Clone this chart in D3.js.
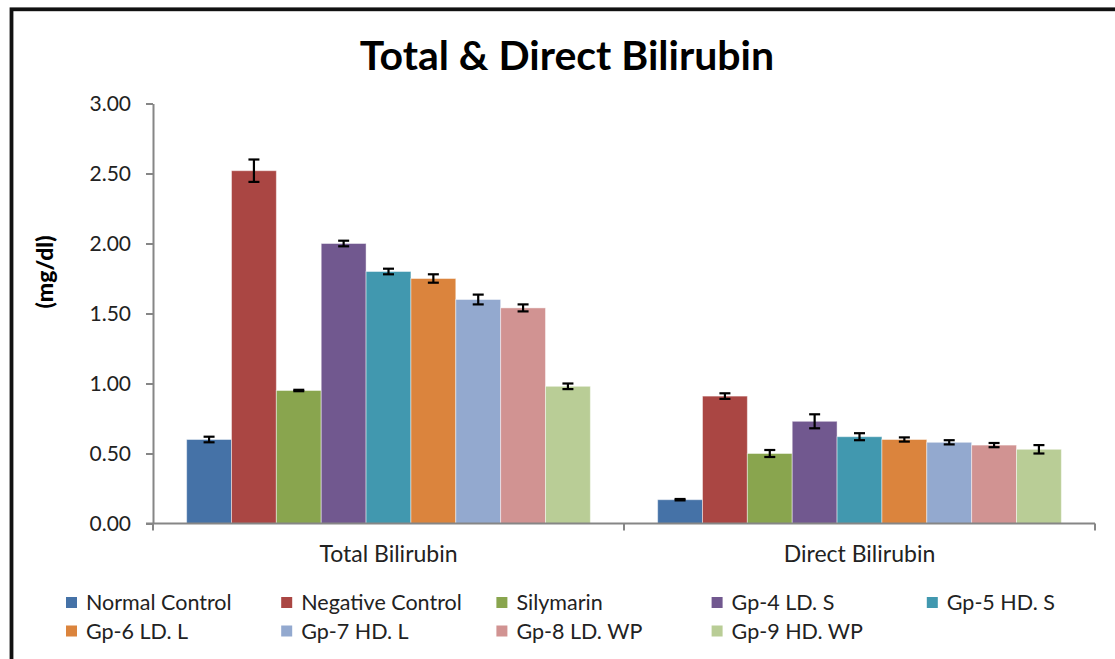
<!DOCTYPE html>
<html>
<head>
<meta charset="utf-8">
<script src="https://cdn.jsdelivr.net/npm/d3@7"></script>
<style>
  body { margin: 0; background: #fff; }
  text { font-family: Lato, "Open Sans", sans-serif; }
</style>
</head>
<body>
<div id="chart"></div>
<script>
// chart values
var categories = ["Total Bilirubin", "Direct Bilirubin"];
var groups = ["Normal Control", "Negative Control", "Silymarin", "Gp-4 LD. S", "Gp-5 HD. S",
              "Gp-6 LD. L", "Gp-7 HD. L", "Gp-8 LD. WP", "Gp-9 HD. WP"];
var colors = ["#4572A7", "#AA4643", "#89A54E", "#71588F", "#4198AF",
              "#DB843D", "#93A9CF", "#D19392", "#B9CD96"];
var totalMeans  = [0.60, 2.52, 0.95, 2.00, 1.80, 1.75, 1.60, 1.54, 0.98];
var totalErrors = [0.02, 0.08, 0.005, 0.02, 0.02, 0.03, 0.035, 0.025, 0.02];
var directMeans  = [0.17, 0.91, 0.50, 0.73, 0.62, 0.60, 0.58, 0.56, 0.53];
var directErrors = [0.005, 0.02, 0.025, 0.05, 0.025, 0.015, 0.015, 0.015, 0.03];
var yTicks = [0, 0.5, 1, 1.5, 2, 2.5, 3];

function draw() {
  var W = 1115, H = 659;
  var svg = d3.select("#chart").append("svg")
    .attr("width", W).attr("height", H);

  // outer frame
  svg.append("rect")
    .attr("x", 11.5).attr("y", 9.3)
    .attr("width", 1130).attr("height", 680)
    .attr("fill", "none").attr("stroke", "#111").attr("stroke-width", 3.8);

  // title
  svg.append("text")
    .attr("x", 567).attr("y", 70)
    .attr("text-anchor", "middle")
    .style("font-weight", "bold").style("font-size", "41px")
    .text("Total & Direct Bilirubin");

  var plotLeft = 153, plotRight = 1095, plotTop = 103.5, plotBottom = 523.5;

  var y = d3.scaleLinear().domain([0, 3]).range([plotBottom, plotTop]);
  var x0 = d3.scaleBand().domain(categories).range([plotLeft, plotRight]).padding(0);
  var gap = x0.bandwidth() * 0.75 / 10.5;
  var x1 = d3.scaleBand().domain(groups)
    .range([gap, x0.bandwidth() - gap]).padding(0);

  var axisColor = "#868686";

  // y axis
  var yAxis = svg.append("g")
    .attr("transform", "translate(" + plotLeft + ",0)")
    .call(d3.axisLeft(y).tickValues(yTicks).tickFormat(d3.format(".2f"))
      .tickSize(7).tickPadding(15).tickSizeOuter(0));
  yAxis.select(".domain").attr("stroke", axisColor).attr("stroke-width", 2);
  yAxis.selectAll(".tick line").attr("stroke", axisColor).attr("stroke-width", 2);
  yAxis.selectAll(".tick text")
    .attr("fill", "#222").style("font-size", "21px")
    .attr("font-family", null);

  // y label
  svg.append("text")
    .attr("transform", "translate(53,272) rotate(-90)")
    .attr("text-anchor", "middle")
    .style("font-weight", "900").style("font-size", "23px")
    .text("(mg/dl)");

  // bars
  var rows = [
    { cat: categories[0], means: totalMeans, errs: totalErrors },
    { cat: categories[1], means: directMeans, errs: directErrors }
  ];

  rows.forEach(function(row) {
    var g = svg.append("g")
      .attr("transform", "translate(" + x0(row.cat) + ",0)");
    var recs = groups.map(function(name, i) {
      return { name: name, v: row.means[i], e: row.errs[i], c: colors[i] };
    });
    g.selectAll("rect")
      .data(recs)
      .enter()
      .append("rect")
      .attr("x", function(d) { return x1(d.name); })
      .attr("y", function(d) { return y(d.v); })
      .attr("width", x1.bandwidth())
      .attr("height", function(d) { return y(0) - y(d.v); })
      .attr("fill", function(d) { return d.c; })
      .attr("stroke", "rgba(255,255,255,0.45)")
      .attr("stroke-width", 1);

    // error bars
    var eb = g.selectAll("g.err")
      .data(recs)
      .enter()
      .append("g").attr("class", "err")
      .attr("stroke", "#000").attr("stroke-width", 2.2);
    var cx = function(d) { return x1(d.name) + x1.bandwidth() / 2; };
    eb.append("line")
      .attr("x1", cx).attr("x2", cx)
      .attr("y1", function(d) { return y(d.v + d.e); })
      .attr("y2", function(d) { return y(d.v - d.e); });
    [1, -1].forEach(function(s) {
      eb.append("line")
        .attr("x1", function(d) { return cx(d) - 5.5; })
        .attr("x2", function(d) { return cx(d) + 5.5; })
        .attr("y1", function(d) { return y(d.v + s * d.e); })
        .attr("y2", function(d) { return y(d.v + s * d.e); });
    });
  });

  // x axis
  var xAxis = svg.append("g")
    .attr("transform", "translate(0," + plotBottom + ")")
    .call(d3.axisBottom(x0).tickSize(0).tickPadding(0));
  xAxis.select(".domain").remove();
  xAxis.append("line")
    .attr("x1", plotLeft - 7).attr("x2", plotRight)
    .attr("stroke", axisColor).attr("stroke-width", 2);
  xAxis.selectAll(".bound")
    .data([plotLeft, x0(categories[1]), plotRight])
    .enter()
    .append("line").attr("class", "bound")
    .attr("x1", function(d) { return d; }).attr("x2", function(d) { return d; })
    .attr("y1", 0).attr("y2", 7)
    .attr("stroke", axisColor).attr("stroke-width", 2);
  xAxis.selectAll(".tick text")
    .attr("y", 38).attr("dy", 0)
    .attr("fill", "#222").style("font-size", "23px")
    .attr("font-family", null);

  // legend
  var legend = svg.append("g");
  var item = legend.selectAll("g")
    .data(groups)
    .enter()
    .append("g")
    .attr("transform", function(d, i) {
      return "translate(" + (66 + (i % 5) * 215.2) + "," + (597 + Math.floor(i / 5) * 28.5) + ")";
    });
  item.append("rect")
    .attr("width", 11).attr("height", 11)
    .attr("fill", function(d, i) { return colors[i]; });
  item.append("text")
    .attr("x", 20).attr("y", 13)
    .attr("fill", "#222").style("font-size", "21.5px")
    .text(function(d) { return d; });
}

draw();
</script>
</body>
</html>
